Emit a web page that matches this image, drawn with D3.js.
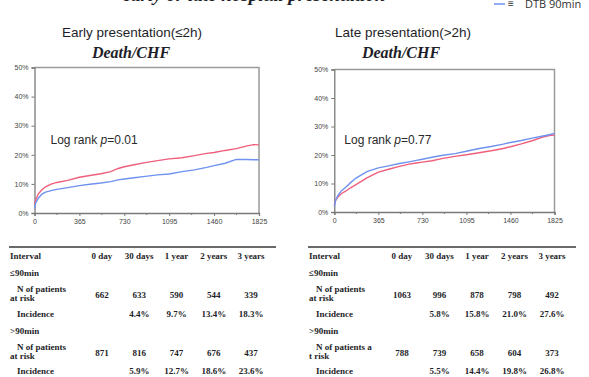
<!DOCTYPE html>
<html>
<head>
<meta charset="utf-8">
<script src="https://cdn.jsdelivr.net/npm/d3@7"></script>
<style>
  body { margin: 0; background: #fff; }
  svg { display: block; }
</style>
</head>
<body>
<svg id="chart" width="589" height="377"></svg>
<script>
// days at which curves were read
const days = [0, 10, 30, 60, 90, 135, 180, 270, 365, 450, 540, 620, 680, 730, 810, 900, 1000, 1095, 1200, 1300, 1400, 1460, 1550, 1640, 1720, 1780, 1825];

// cumulative incidence (%) — early presentation
const earlyLe90 = [1.5, 3.5, 5.0, 6.5, 7.2, 7.7, 8.1, 8.7, 9.4, 9.9, 10.3, 10.8, 11.4, 11.7, 12.1, 12.6, 13.1, 13.4, 14.2, 14.8, 15.7, 16.3, 17.1, 18.4, 18.4, 18.3, 18.3];
const earlyGt90 = [3.0, 4.5, 6.5, 8.0, 9.0, 9.9, 10.5, 11.2, 12.3, 12.9, 13.5, 14.2, 15.3, 15.9, 16.6, 17.3, 18.0, 18.6, 19.0, 19.7, 20.5, 20.8, 21.5, 22.1, 23.0, 23.5, 23.4];
// late presentation
const lateLe90 = [2.0, 4.0, 5.8, 7.5, 8.5, 10.3, 11.9, 14.2, 15.5, 16.2, 17.0, 17.6, 18.1, 18.5, 19.2, 19.9, 20.5, 21.3, 22.3, 23.0, 23.8, 24.4, 25.1, 25.9, 26.6, 27.1, 27.6];
const lateGt90 = [2.5, 4.0, 5.3, 6.5, 7.2, 8.5, 9.6, 12.0, 14.0, 15.0, 16.0, 16.8, 17.2, 17.5, 18.0, 18.8, 19.5, 20.1, 20.8, 21.5, 22.3, 22.9, 23.9, 25.0, 26.2, 26.8, 27.0];

const xTicks = [0, 365, 730, 1095, 1460, 1825];
const yTicks = [0, 10, 20, 30, 40, 50];

const tableCols = ["0 day", "30 days", "1 year", "2 years", "3 years"];
const earlyRiskLe90 = ["662", "633", "590", "544", "339"];
const earlyIncLe90 = ["", "4.4%", "9.7%", "13.4%", "18.3%"];
const earlyRiskGt90 = ["871", "816", "747", "676", "437"];
const earlyIncGt90 = ["", "5.9%", "12.7%", "18.6%", "23.6%"];
const lateRiskLe90 = ["1063", "996", "878", "798", "492"];
const lateIncLe90 = ["", "5.8%", "15.8%", "21.0%", "27.6%"];
const lateRiskGt90 = ["788", "739", "658", "604", "373"];
const lateIncGt90 = ["", "5.5%", "14.4%", "19.8%", "26.8%"];

const RED = "#ef5f7c";
const BLUE = "#6f92f0";
const TXT = "#1e1e28";

const svg = d3.select("#chart");

// main title and legend, cut off at the top edge as in the original
svg.append("text")
  .attr("x", 254).attr("y", 1)
  .attr("text-anchor", "middle")
  .style("font-family", "'Liberation Serif', serif")
  .style("font-style", "italic").style("font-weight", "bold")
  .style("font-size", "19px").style("fill", TXT)
  .text("early or late hospital presentation");

svg.append("line")
  .attr("x1", 494).attr("x2", 505).attr("y1", 4).attr("y2", 4)
  .attr("stroke", BLUE).attr("stroke-width", 1.5);
svg.append("text")
  .attr("x", 508).attr("y", 7)
  .style("font-family", "'Liberation Sans', Arial, sans-serif")
  .style("font-size", "10px").style("fill", "#333")
  .text("≡");
svg.append("text")
  .attr("x", 525).attr("y", 8)
  .style("font-family", "'Open Sans', 'Liberation Sans', sans-serif")
  .style("font-size", "11px").style("fill", "#333")
  .text("DTB 90min");

function drawPanel(opt) {
  const x = d3.scaleLinear().domain([0, 1825]).range([opt.left, opt.right]);
  const y = d3.scaleLinear().domain([0, 50]).range([opt.bottom, opt.top]);

  svg.append("text")
    .attr("x", opt.titleX).attr("y", 37)
    .attr("text-anchor", "middle")
    .style("font-family", "'Liberation Sans', Arial, sans-serif")
    .style("font-size", "13.5px").style("fill", TXT)
    .text(opt.title);
  svg.append("text")
    .attr("x", opt.subX).attr("y", 58)
    .attr("text-anchor", "middle")
    .style("font-family", "'Liberation Serif', serif")
    .style("font-style", "italic").style("font-weight", "bold")
    .style("font-size", "16px").style("fill", TXT)
    .text("Death/CHF");

  // frame top/right
  svg.append("path")
    .attr("d", `M${opt.left},${opt.top}H${opt.right}V${opt.bottom}`)
    .attr("fill", "none").attr("stroke", "#9a9a9a").attr("stroke-width", 1.5);

  const yAxis = svg.append("g")
    .attr("transform", `translate(${opt.left},0)`)
    .call(d3.axisLeft(y).tickValues(yTicks).tickSize(3).tickFormat(d => d + "%"));
  const xAxis = svg.append("g")
    .attr("transform", `translate(0,${opt.bottom})`)
    .call(d3.axisBottom(x).tickValues(xTicks).tickSize(3).tickPadding(3).tickFormat(d3.format("d")));
  // minor ticks half-way
  svg.append("g")
    .selectAll("line")
    .data(xTicks.slice(1).map(d => d - 182.5))
    .join("line")
    .attr("x1", d => x(d)).attr("x2", d => x(d))
    .attr("y1", opt.bottom).attr("y2", opt.bottom + 2)
    .attr("stroke", "#777");

  [yAxis, xAxis].forEach(g => {
    g.select(".domain").attr("stroke", "#7a7a7a").attr("stroke-width", 1.3);
    g.selectAll(".tick line").attr("stroke", "#777");
    g.selectAll(".tick text")
      .style("font-family", "'Liberation Sans', Arial, sans-serif")
      .style("font-size", "7px").style("fill", "#444");
  });

  const line = d3.line()
    .x((d, i) => x(days[i]))
    .y(d => y(d))
    .curve(d3.curveLinear);

  svg.append("path").datum(opt.red)
    .attr("d", line).attr("fill", "none")
    .attr("stroke", RED).attr("stroke-width", 1.4);
  svg.append("path").datum(opt.blue)
    .attr("d", line).attr("fill", "none")
    .attr("stroke", BLUE).attr("stroke-width", 1.4);

  const lr = svg.append("text")
    .attr("x", opt.left + 16 + (opt.lrShift || 0)).attr("y", 144)
    .style("font-family", "'Liberation Sans', Arial, sans-serif")
    .style("font-size", "12px").style("fill", "#2a2a2a");
  lr.append("tspan").text("Log rank ");
  lr.append("tspan").style("font-style", "italic").text("p");
  lr.append("tspan").text("=" + opt.p);
}

drawPanel({
  left: 34.5, right: 259, top: 67.5, bottom: 213,
  titleX: 132, subX: 131, title: "Early presentation(≤2h)",
  red: earlyGt90, blue: earlyLe90, p: "0.01"
});
drawPanel({
  left: 334.3, right: 554.5, top: 69.5, bottom: 212,
  titleX: 403, subX: 401, title: "Late presentation(>2h)",
  red: lateGt90, blue: lateLe90, p: "0.77", lrShift: -6
});

function drawTable(opt) {
  svg.append("line")
    .attr("x1", opt.x0).attr("x2", opt.x1)
    .attr("y1", 247).attr("y2", 247)
    .attr("stroke", "#6a6a6a").attr("stroke-width", 2);

  const g = svg.append("g")
    .style("font-family", "'Liberation Serif', 'Times New Roman', serif")
    .style("font-weight", "bold").style("font-size", "9px").style("fill", TXT);

  const colX = d3.scalePoint().domain(tableCols).range(opt.cols);

  const txt = (xx, yy, s, anchor) => g.append("text")
    .attr("x", xx).attr("y", yy)
    .attr("text-anchor", anchor || "start").text(s);

  txt(opt.x0 + 1, 259, "Interval");
  tableCols.forEach(c => txt(colX(c), 259, c, "middle"));

  txt(opt.x0 + 1, 276, "≤90min");
  txt(opt.x0 + 8, 292, "N of patients");
  txt(opt.x0 + 1, 301, opt.atRisk[0]);
  opt.riskLe.forEach((v, i) => txt(colX(tableCols[i]), 298, v, "middle"));
  txt(opt.x0 + 8, 317, "Incidence");
  opt.incLe.forEach((v, i) => txt(colX(tableCols[i]), 317, v, "middle"));

  txt(opt.x0 + 1, 334, ">90min");
  txt(opt.x0 + 8, 350, opt.atRisk[1]);
  txt(opt.x0 + 1, 359, opt.atRisk[2]);
  opt.riskGt.forEach((v, i) => txt(colX(tableCols[i]), 356, v, "middle"));
  txt(opt.x0 + 8, 374, "Incidence");
  opt.incGt.forEach((v, i) => txt(colX(tableCols[i]), 374, v, "middle"));
}

drawTable({
  x0: 9, x1: 276, cols: [102, 251],
  atRisk: ["at risk", "N of patients", "at risk"],
  riskLe: earlyRiskLe90, incLe: earlyIncLe90,
  riskGt: earlyRiskGt90, incGt: earlyIncGt90
});
drawTable({
  x0: 308, x1: 576, cols: [402, 552],
  atRisk: ["at risk", "N of patients a", "t risk"],
  riskLe: lateRiskLe90, incLe: lateIncLe90,
  riskGt: lateRiskGt90, incGt: lateIncGt90
});
</script>
</body>
</html>
